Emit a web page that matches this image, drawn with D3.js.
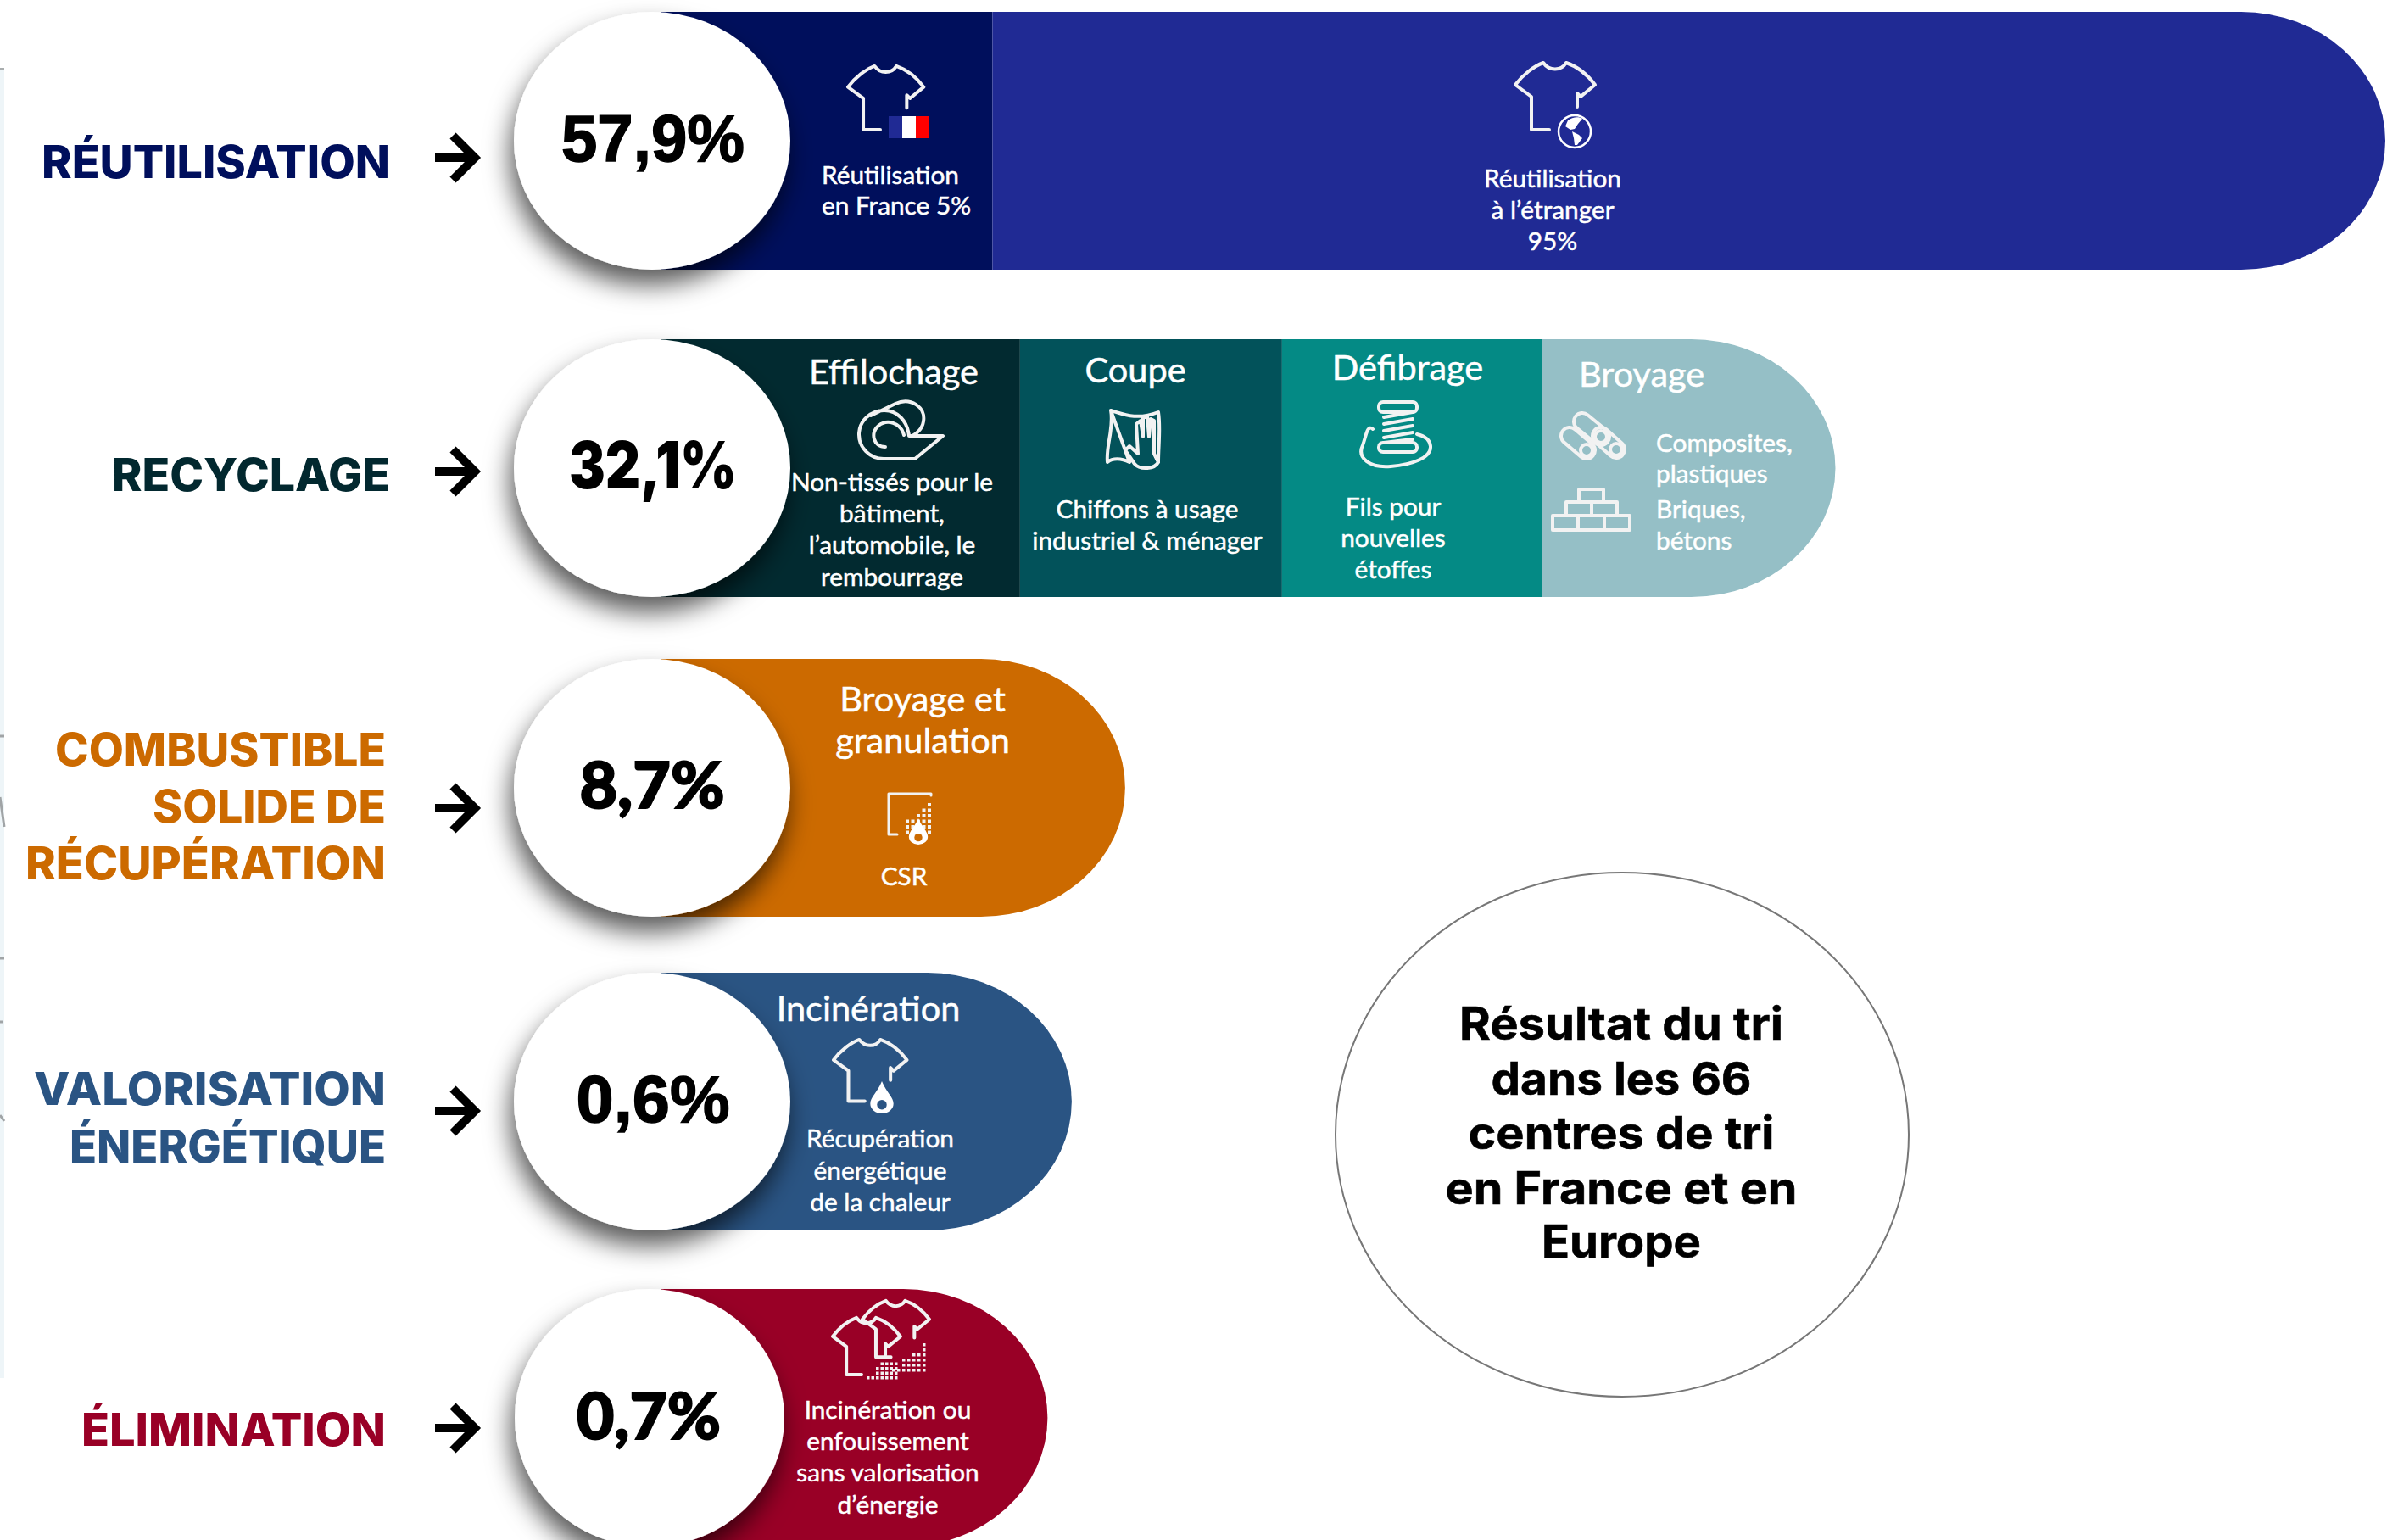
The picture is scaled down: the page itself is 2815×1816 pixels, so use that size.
<!DOCTYPE html>
<html>
  <head>
    <title>Résultat du tri</title>
    <meta charset="UTF-8" />
    <script src="https://d3js.org/d3.v7.min.js"></script>
    <style>
        html, body { margin: 0; padding: 0; background: #fff; overflow: hidden; }
        svg { display: block; }
        .cat { font-family: Inter, sans-serif; font-weight: 800; font-size: 54px; text-anchor: end; }
        .seg { font-family: Lato, sans-serif; fill: #fff; stroke: #fff; stroke-width: 0.5px; }
        .pct { font-size: 77px; text-anchor: middle; fill: #000; stroke: #000; }
        .centre { font-family: Inter, sans-serif; font-weight: 700; font-size: 53px; text-anchor: middle; fill: #000; stroke: #000; stroke-width: 0.6px; }
        .icon { fill: none; stroke: #f2f2f2; stroke-width: 4; stroke-linejoin: round; stroke-linecap: round; }
    </style>
  </head>
  <body>
    <script>
        // values
        var categories = ["Réutilisation", "Recyclage", "CSR", "Valorisation", "Élimination"];
        var categoryLines = [
            ["RÉUTILISATION"],
            ["RECYCLAGE"],
            ["COMBUSTIBLE", "SOLIDE DE", "RÉCUPÉRATION"],
            ["VALORISATION", "ÉNERGÉTIQUE"],
            ["ÉLIMINATION"]
        ];
        var shares = [57.9, 32.1, 8.7, 0.6, 0.7];

        // one entry per coloured block, widths are in % of the longest bar
        var segmentRows = [0, 0, 1, 1, 1, 1, 2, 3, 4];
        var segmentWidths = [19.2, 80.8, 20.8, 15.2, 15.1, 17.0, 26.9, 23.8, 22.4];
        var segmentHeadings = ["", "", "Effilochage", "Coupe", "Défibrage", "Broyage", "Broyage et|granulation", "Incinération", ""];
        var segmentCaptions = [
            "Réutilisation|en France 5%",
            "Réutilisation|à l’étranger|95%",
            "Non-tissés pour le|bâtiment,|l’automobile, le|rembourrage",
            "Chiffons à usage|industriel & ménager",
            "Fils pour|nouvelles|étoffes",
            "Composites,|plastiques|Briques,|bétons",
            "CSR",
            "Récupération|énergétique|de la chaleur",
            "Incinération ou|enfouissement|sans valorisation|d’énergie"
        ];
        var centreLines = ["Résultat du tri", "dans les 66", "centres de tri", "en France et en", "Europe"];

        var width = 2815, height = 1816;
        var barHalf = 152;

        var svg = d3.select("body").append("svg")
            .attr("width", width)
            .attr("height", height);

        var xScale = d3.scaleLinear().domain([0, 100]).range([780, 2813]);
        var yScale = d3.scaleOrdinal().domain(d3.range(5)).range([166, 552, 929, 1299, 1672]);
        var colorScale = d3.scaleOrdinal().domain(d3.range(9))
            .range(["#000f5c", "#202a94", "#022a30", "#02525a", "#048a85", "#95bfc6", "#cc6a00", "#2a5483", "#990026"]);
        var labelColor = d3.scaleOrdinal().domain(d3.range(5))
            .range(["#000f5c", "#02282f", "#cc6a00", "#2a5483", "#990026"]);
        var fr = d3.formatLocale({ decimal: ",", thousands: " ", grouping: [3], currency: ["", "€"] });
        var fmtShare = fr.format(".1f");

        var defs = svg.append("defs");
        var shadow = defs.append("filter").attr("id", "shadow")
            .attr("x", "-30%").attr("y", "-30%").attr("width", "160%").attr("height", "170%");
        shadow.append("feDropShadow")
            .attr("dx", -4).attr("dy", 18).attr("stdDeviation", 15)
            .attr("flood-color", "#000").attr("flood-opacity", 0.65);

        // pale strip at the left border of the scan
        svg.append("rect").attr("x", 0).attr("y", 80).attr("width", 5).attr("height", 1545).attr("fill", "#eef5f8");
        svg.append("rect").attr("x", 0).attr("y", 80).attr("width", 5).attr("height", 3).attr("fill", "#a9adae");
        svg.append("path").attr("d", "M0 868H5M0 940L5 975M0 1130H5M0 1205H3M0 1315L5 1322")
            .attr("stroke", "#a0a4a6").attr("stroke-width", 3).attr("fill", "none");

        // bars
        var rowRunning = [0, 0, 0, 0, 0];
        var lastOfRow = [1, 5, 6, 7, 8];
        var rx = 170;
        segmentWidths.forEach(function(w, i) {
            var r = segmentRows[i];
            var x0 = xScale(rowRunning[r]);
            var x1 = xScale(rowRunning[r] + w);
            rowRunning[r] += w;
            var y0 = yScale(r) - barHalf, y1 = yScale(r) + barHalf;
            var d;
            if (lastOfRow[r] === i) {
                d = "M" + x0 + " " + y0 + "H" + (x1 - rx)
                    + "A" + rx + " " + barHalf + " 0 0 1 " + (x1 - rx) + " " + y1
                    + "H" + x0 + "Z";
            } else {
                d = "M" + x0 + " " + y0 + "H" + x1 + "V" + y1 + "H" + x0 + "Z";
            }
            svg.append("path").attr("d", d).attr("fill", colorScale(i));
        });

        // white ellipses with the share
        var ellipseCx = [769, 769, 769, 769, 766];
        var ellipseRx = [163, 163, 163, 163, 159];
        var shareFont = ["'Liberation Sans'", "Inter", "Lato", "'Liberation Sans'", "Lato"];
        var shareWeight = [700, 900, 900, 700, 900];
        var shareStroke = [1.5, 0, 2, 1.5, 2];
        var shareLen = [216, 198, 171, 181, 170];
        var shareX = [770, 770, 769, 770, 765];
        var shareY = [190, 576, 953, 1323, 1697];
        shares.forEach(function(v, i) {
            svg.append("ellipse")
                .attr("cx", ellipseCx[i]).attr("cy", yScale(i))
                .attr("rx", ellipseRx[i]).attr("ry", barHalf)
                .attr("fill", "#fff").attr("filter", "url(#shadow)");
            svg.append("text").attr("class", "pct")
                .attr("x", shareX[i]).attr("y", shareY[i])
                .attr("textLength", shareLen[i]).attr("lengthAdjust", "spacingAndGlyphs")
                .style("font-family", shareFont[i]).style("font-weight", shareWeight[i])
                .style("stroke-width", shareStroke[i] + "px")
                .text(fmtShare(v) + "%");
        });

        // category labels and arrows
        var catX = [460, 460, 455, 455, 455];
        var catY = [[210], [579], [903, 970, 1037], [1303, 1371], [1705]];
        var catLen = [[411], [328], [390, 275, 425], [415, 373], [359]];
        var arrowY = [186, 556, 953, 1310, 1684];
        categoryLines.forEach(function(lines, i) {
            lines.forEach(function(t, k) {
                svg.append("text").attr("class", "cat")
                    .attr("x", catX[i]).attr("y", catY[i][k])
                    .attr("textLength", catLen[i][k]).attr("lengthAdjust", "spacingAndGlyphs")
                    .attr("fill", labelColor(i)).text(t);
            });
            var g = svg.append("g").attr("transform", "translate(513," + arrowY[i] + ")")
                .attr("fill", "none").attr("stroke", "#000").attr("stroke-width", 10);
            g.append("path").attr("d", "M0 0H44");
            g.append("path").attr("d", "M21 -26L47 0L21 26");
        });

        // headings and captions inside the bars
        var headPos = [null, null, [1054, 453], [1339, 451], [1660, 448], [1862, 456, "start"], [1088, 839], [1024, 1204], null];
        var capPos = [
            { x: 969, y: [217, 253], a: "start" },
            { x: 1831, y: [221, 258, 295] },
            { x: 1052, y: [579, 616, 653, 691] },
            { x: 1353, y: [611, 648] },
            { x: 1643, y: [608, 645, 682] },
            { x: 1953, y: [533, 569, 611, 648], a: "start" },
            { x: 1066, y: [1044] },
            { x: 1038, y: [1353, 1391, 1428] },
            { x: 1047, y: [1673, 1710, 1747, 1785] }
        ];
        segmentHeadings.forEach(function(h, i) {
            if (!h) return;
            h.split("|").forEach(function(t, k) {
                svg.append("text").attr("class", "seg")
                    .attr("x", headPos[i][0]).attr("y", headPos[i][1] + k * 49)
                    .attr("text-anchor", headPos[i][2] || "middle")
                    .style("font-size", "41.5px").text(t);
            });
        });
        segmentCaptions.forEach(function(c, i) {
            c.split("|").forEach(function(t, k) {
                svg.append("text").attr("class", "seg")
                    .attr("x", capPos[i].x).attr("y", capPos[i].y[k])
                    .attr("text-anchor", capPos[i].a || "middle")
                    .style("font-size", "29.8px").text(t);
            });
        });

        // centre note
        svg.append("ellipse").attr("cx", 1913).attr("cy", 1338).attr("rx", 338).attr("ry", 309)
            .attr("fill", "#fff").attr("stroke", "#777").attr("stroke-width", 2);
        var centreY = [1226, 1291, 1355, 1420, 1483];
        var centreLen = [382, 307, 361, 415, 188];
        centreLines.forEach(function(t, k) {
            svg.append("text").attr("class", "centre").attr("x", 1912).attr("y", centreY[k])
                .attr("textLength", centreLen[k]).attr("lengthAdjust", "spacingAndGlyphs").text(t);
        });

        // icons
        var shirtD = "M73 53V37L77 41L94 27C85 15 72 5 60 1C54 11 40 11 33 1C22 5 9 15 0 27L19 41V80H40";
        function shirt(x, y, k) {
            return svg.append("path").attr("class", "icon").attr("d", shirtD)
                .attr("transform", "translate(" + x + "," + y + ") scale(" + k + ")")
                .style("stroke-width", 4 / k);
        }
        function drop(cx, top, h, holeFill) {
            var w = h * 0.36;
            svg.append("path").attr("fill", "#fff")
                .attr("d", "M" + cx + " " + top
                    + "C" + (cx + w * 0.4) + " " + (top + h * 0.35) + " " + (cx + w) + " " + (top + h * 0.5) + " " + (cx + w) + " " + (top + h * 0.7)
                    + "A" + w + " " + (h * 0.3) + " 0 0 1 " + (cx - w) + " " + (top + h * 0.7)
                    + "C" + (cx - w) + " " + (top + h * 0.5) + " " + (cx - w * 0.4) + " " + (top + h * 0.35) + " " + cx + " " + top + "Z");
            svg.append("ellipse").attr("cx", cx).attr("cy", top + h * 0.73)
                .attr("rx", w * 0.42).attr("ry", h * 0.15).attr("fill", holeFill);
        }
        function dots(x, y, cols, step, size) {
            // cols: how many squares per row, bottom row last, aligned right
            cols.forEach(function(n, r) {
                d3.range(n).forEach(function(c) {
                    svg.append("rect").attr("x", x - c * step).attr("y", y + r * step)
                        .attr("width", size).attr("height", size).attr("fill", "#f2f2f2");
                });
            });
        }

        // France + flag
        shirt(1000, 77, 0.95);
        [["#202a94", 0], ["#fff", 16], ["#f00", 32]].forEach(function(f) {
            svg.append("rect").attr("x", 1048 + f[1]).attr("y", 137).attr("width", 16).attr("height", 26).attr("fill", f[0]);
        });

        // abroad + globe
        shirt(1787, 73, 1);
        svg.append("circle").attr("cx", 1857).attr("cy", 155).attr("r", 19)
            .attr("fill", "none").attr("stroke", "#fff").attr("stroke-width", 2.5);
        svg.append("path").attr("fill", "#fff")
            .attr("d", "M1849 142C1854 138 1862 137 1866 140L1861 146L1857 152L1852 153L1846 149ZM1854 155L1862 159L1866 163L1860 171L1857 171L1856 163Z");

        // roll
        svg.append("path").attr("class", "icon")
            .attr("d", "M1027 490L1056 476C1074 468 1092 480 1089 497C1088 504 1083 510 1076 514M1043 484A29 28 0 1 0 1042 541H1079L1112 514H1072C1070 496 1058 484 1043 484M1066 513C1062 498 1046 494 1036 502C1026 511 1030 527 1044 527");

        // rag with hand
        svg.append("path").attr("class", "icon")
            .attr("d", "M1310 484C1324 488 1340 496 1366 486C1369 505 1366 525 1366 545C1362 553 1345 555 1338 547L1327 531L1332 526L1342 535L1340 500L1345 496L1348 515V493L1353 491L1355 515L1357 494L1361 496V535L1366 545M1332 545C1322 540 1312 540 1306 545C1304 525 1314 505 1310 484Z");

        // spool
        var spool = svg.append("g").attr("class", "icon");
        spool.append("rect").attr("x", 1626).attr("y", 474).attr("width", 45).attr("height", 12).attr("rx", 5);
        spool.append("rect").attr("x", 1626).attr("y", 522).attr("width", 45).attr("height", 11).attr("rx", 5);
        spool.append("path").attr("d", "M1632 492L1666 486M1632 500L1666 494M1632 508L1666 502M1632 516L1666 510M1632 522L1666 518");
        spool.append("path").attr("d", "M1619 506C1612 500 1611 515 1607 525C1600 540 1615 552 1640 550C1665 548 1688 540 1687 526C1686 518 1680 514 1671 512");

        // tubes
        [[1866, 497, 1888, 515], [1851, 514, 1871, 531], [1888, 514, 1906, 530]].forEach(function(t) {
            var tube = svg.append("g").attr("class", "icon");
            var a = Math.atan2(t[3] - t[1], t[2] - t[0]) * 180 / Math.PI;
            var len = Math.hypot(t[2] - t[0], t[3] - t[1]);
            tube.append("rect").attr("x", -10).attr("y", -10).attr("width", len + 20).attr("height", 20).attr("rx", 10)
                .attr("transform", "translate(" + t[0] + "," + t[1] + ") rotate(" + a + ")");
            tube.append("circle").attr("cx", t[2]).attr("cy", t[3]).attr("r", 7);
        });

        // bricks
        var bricks = [[1862, 577, 29, 15], [1847, 592, 30, 16], [1877, 592, 30, 16], [1831, 608, 30, 17], [1861, 608, 31, 17], [1892, 608, 30, 17]];
        bricks.forEach(function(b) {
            svg.append("rect").attr("class", "icon").attr("x", b[0]).attr("y", b[1]).attr("width", b[2]).attr("height", b[3]);
        });

        // CSR icon
        svg.append("path").attr("class", "icon").style("stroke-width", 3)
            .attr("d", "M1098 938V936H1048V984H1058");
        dots(1094, 947, [1, 2, 3, 5, 5, 5], 6.5, 4);
        drop(1083, 965, 31, "#cc6a00");

        // incineration
        shirt(983, 1225, 0.92);
        drop(1040, 1275, 38, "#2a5483");

        // elimination, two shirts with particles
        shirt(1017, 1533, 0.84);
        shirt(982, 1553, 0.85);
        dots(1088, 1584, [1, 1, 3, 5, 5, 7], 6, 3.5);
        dots(1055, 1601, [0, 4, 5, 5, 7], 5.5, 3.5);
    </script>
  </body>
</html>
